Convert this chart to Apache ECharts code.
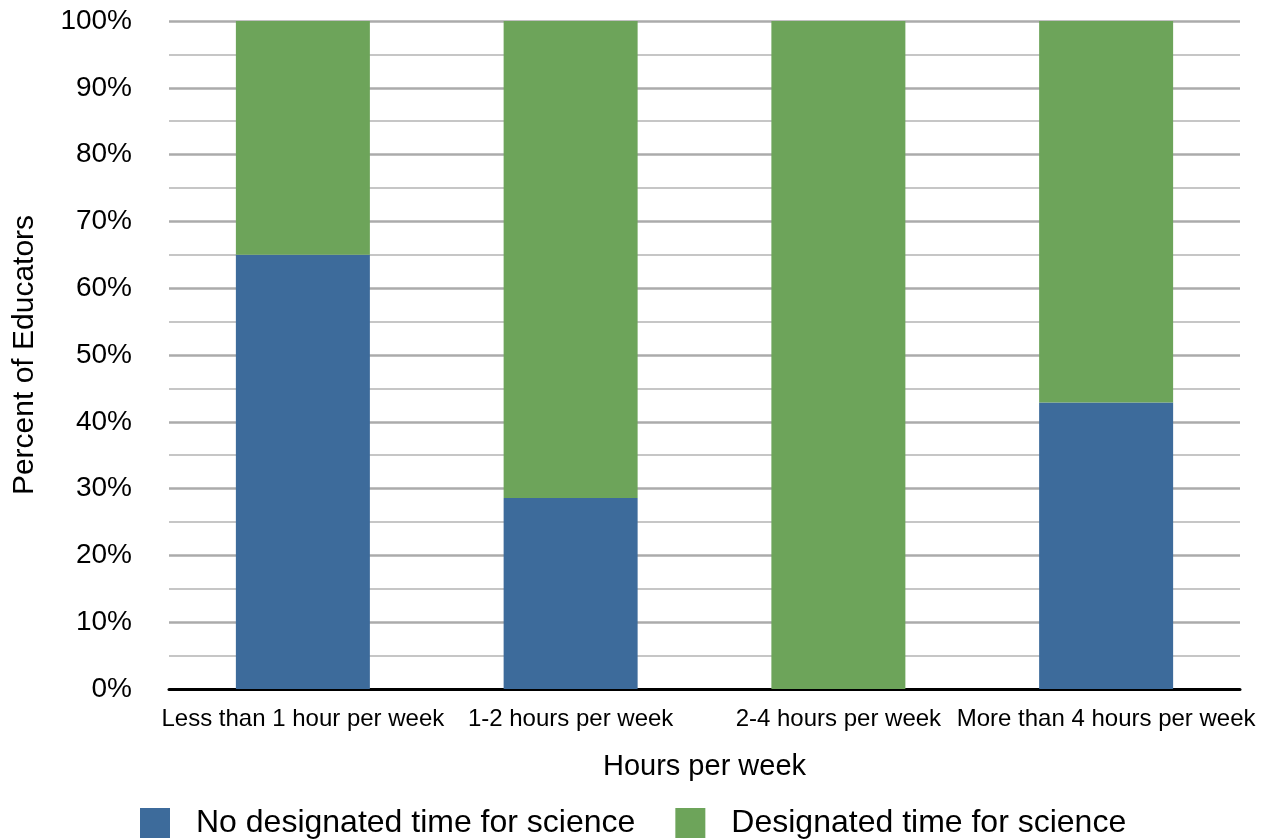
<!DOCTYPE html>
<html>
<head>
<meta charset="utf-8">
<script src="https://cdn.jsdelivr.net/npm/echarts@6/dist/echarts.min.js"></script>
<style>
html,body{margin:0;padding:0;background:#fff;}
#chart{width:1266px;height:839px;}
</style>
</head>
<body>
<div id="chart"></div>
<script>
const categories = ['Less than 1 hour per week', '1-2 hours per week', '2-4 hours per week', 'More than 4 hours per week'];
const noDesignated = [65, 28.6, 0, 42.9];
const designated = [35, 71.4, 100, 57.1];
const yTicks = [0, 10, 20, 30, 40, 50, 60, 70, 80, 90, 100];

const FONT = '"Liberation Sans", Arial, Helvetica, sans-serif';
const chart = echarts.init(document.getElementById('chart'));
chart.setOption({
  backgroundColor: '#ffffff',
  animation: false,
  textStyle: { fontFamily: FONT, color: '#000' },
  grid: { left: 169, right: 26, top: 21, bottom: 150, containLabel: false },
  legend: {
    left: 135,
    top: 802,
    itemWidth: 30,
    itemHeight: 30,
    itemGap: 40,
    icon: 'rect',
    textStyle: { fontFamily: FONT, fontSize: 32, lineHeight: 30, color: '#000', padding: [0, 0, 0, 21] },
    data: ['No designated time for science', 'Designated time for science']
  },
  xAxis: {
    type: 'category',
    data: categories,
    name: 'Hours per week',
    nameLocation: 'middle',
    nameGap: 63,
    nameTextStyle: { fontFamily: FONT, fontSize: 29, color: '#000' },
    axisTick: { show: false },
    axisLine: { lineStyle: { color: '#000', width: 3 } },
    axisLabel: { interval: 0, fontSize: 24, color: '#000', margin: 18, fontFamily: FONT }
  },
  yAxis: {
    type: 'value',
    min: yTicks[0],
    max: yTicks[yTicks.length - 1],
    interval: 10,
    name: 'Percent of Educators',
    nameLocation: 'middle',
    nameGap: 129,
    nameTextStyle: { fontFamily: FONT, fontSize: 30, color: '#000' },
    axisLine: { show: false },
    axisTick: { show: false },
    axisLabel: { formatter: '{value}%', fontSize: 28, color: '#000', margin: 37, fontFamily: FONT },
    splitLine: { show: true, lineStyle: { color: '#ababab', width: 2.5 } },
    minorTick: { show: false, splitNumber: 2 },
    minorSplitLine: { show: true, lineStyle: { color: '#c6c6c6', width: 2 } }
  },
  series: [
    {
      name: 'No designated time for science',
      type: 'bar',
      stack: 'total',
      barWidth: 134,
      data: noDesignated,
      itemStyle: { color: '#3d6b9b' }
    },
    {
      name: 'Designated time for science',
      type: 'bar',
      stack: 'total',
      barWidth: 134,
      data: designated,
      itemStyle: { color: '#6da45a' }
    }
  ]
});
</script>
</body>
</html>
